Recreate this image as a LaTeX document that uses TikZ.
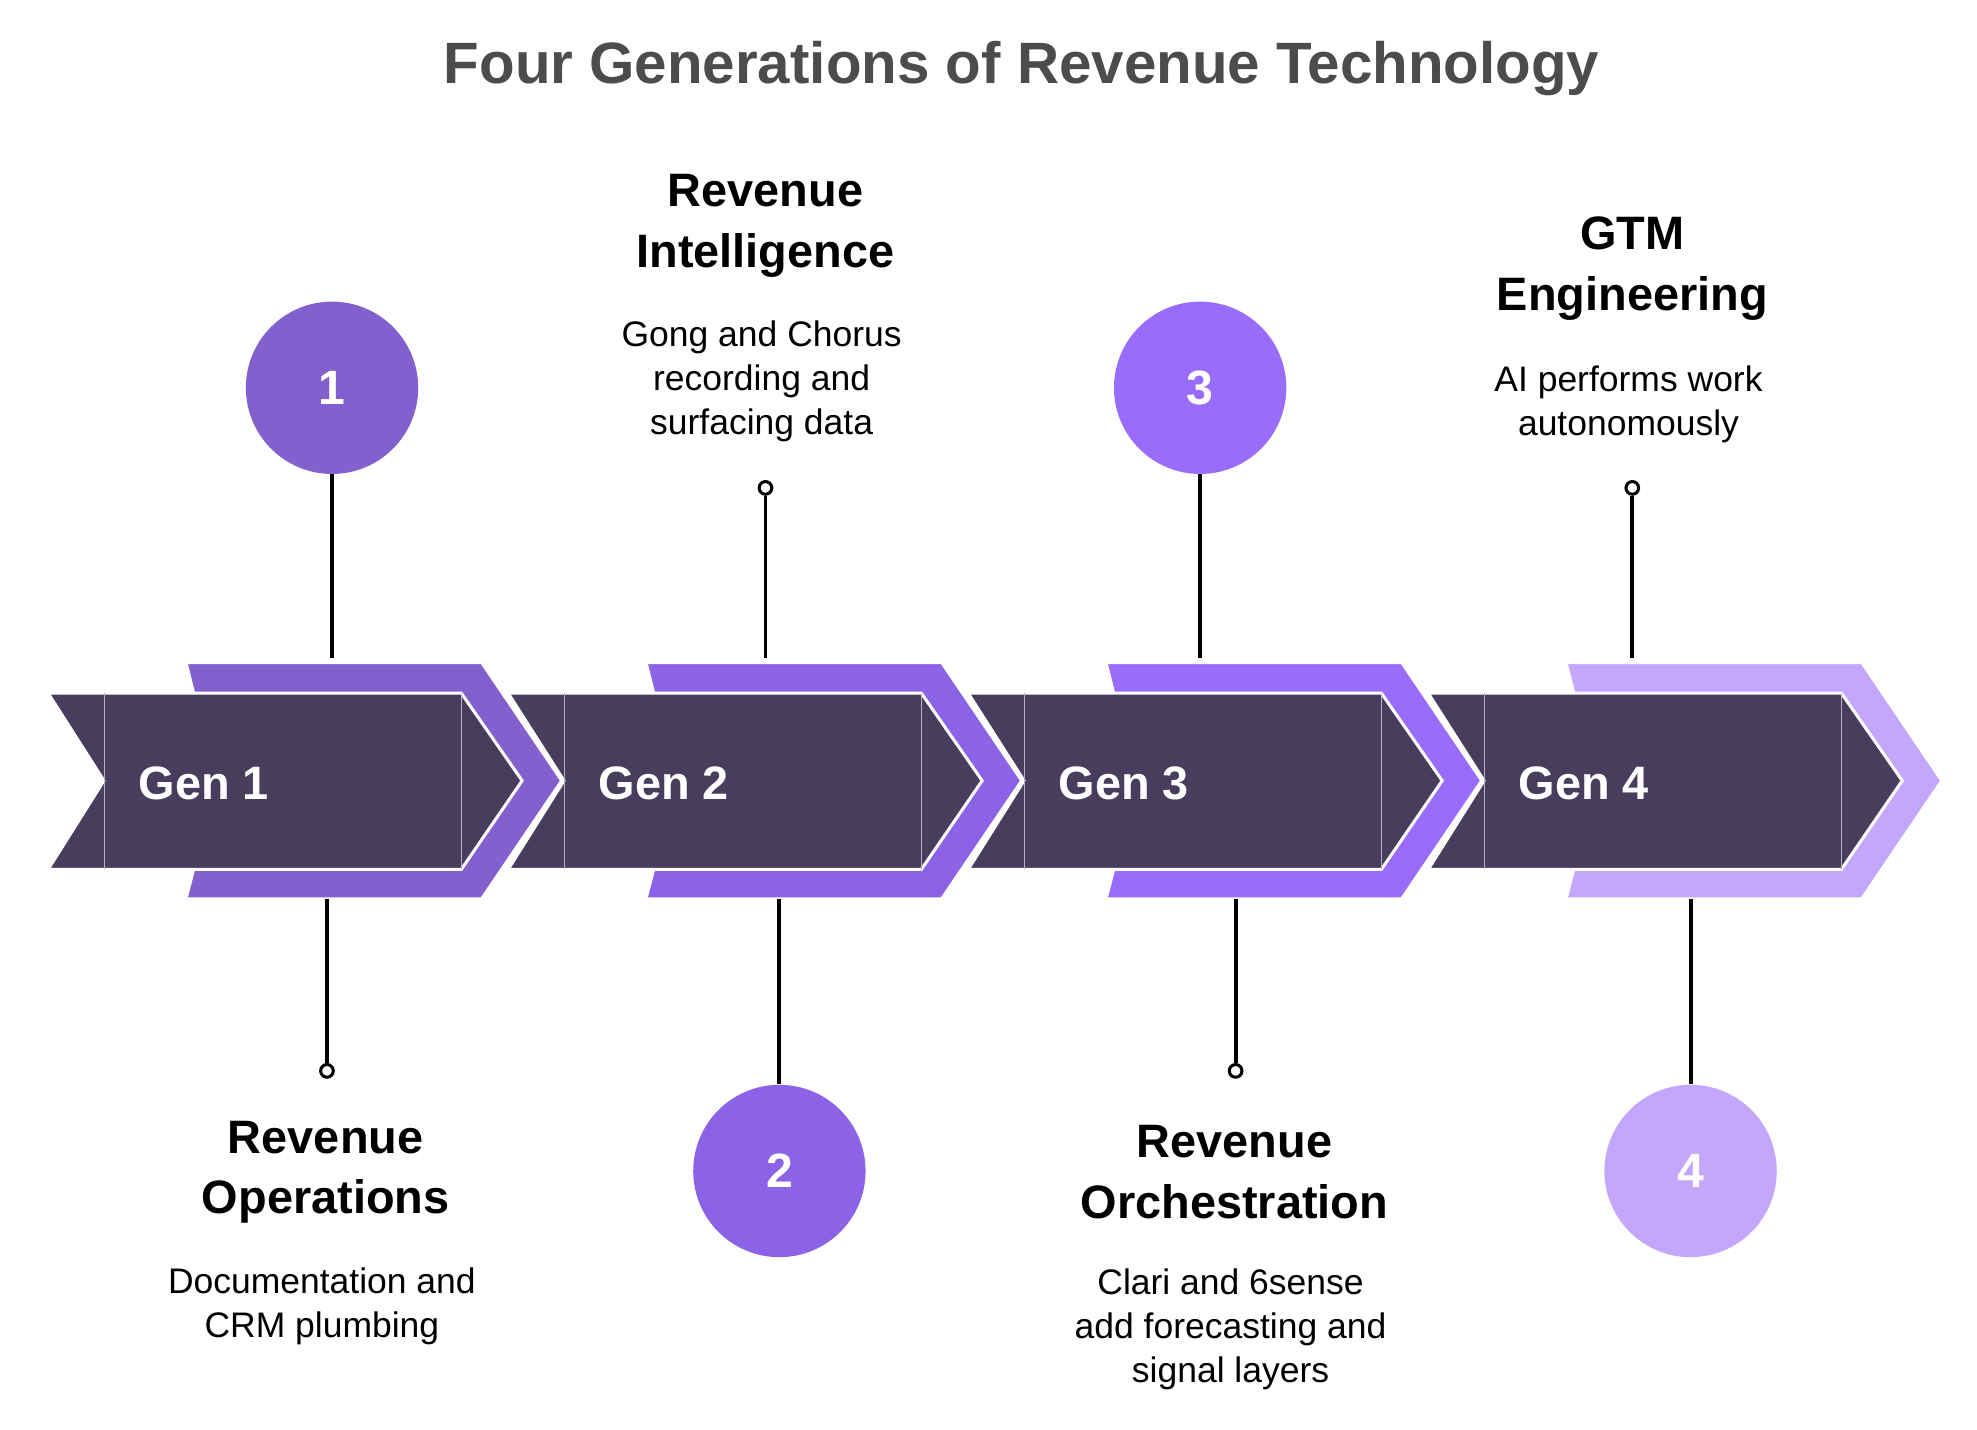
\documentclass[tikz,border=0pt]{standalone}
\usepackage{fontspec}
\setmainfont{Liberation Sans}
\begin{document}
\begin{tikzpicture}[x=0.5pt,y=-0.5pt,
  dark/.style={fill=darkc,draw=white,line width=1.2pt,line join=miter},
  num/.style={circle,minimum size=68pt,inner sep=0pt,text=white,font=\fontsize{19}{19}\bfseries\selectfont},
  head/.style={align=center,inner sep=0pt,font=\fontsize{18.5}{24}\bfseries\selectfont},
  body/.style={align=center,inner sep=0pt,font=\fontsize{14}{17.5}\selectfont},
  gen/.style={anchor=west,inner sep=0pt,text=white,font=\fontsize{18.5}{18.5}\bfseries\selectfont},
  conn/.style={line width=1.5pt},
  dot/.style={circle,draw=black,fill=white,line width=1.2pt,minimum size=5pt,inner sep=0pt}]
\definecolor{darkc}{HTML}{483D5C}
\definecolor{pa}{HTML}{8460CF}
\definecolor{pb}{HTML}{8C63E6}
\definecolor{pc}{HTML}{9A6CFC}
\definecolor{pd}{HTML}{C4A6FC}
\useasboundingbox (0,0) rectangle (1560,1128);
\node[text=black!70,font=\fontsize{23}{23}\bfseries\selectfont] (title) at (806,54) {Four Generations of Revenue Technology};
\foreach \k/\c/\g in {0/pa/1,1/pb/2,2/pc/3,3/pd/4}{
  \begin{scope}[xshift=\k*363*0.5pt]
  \fill[\c,draw=white,line width=1pt] (147,523)--(380,523)--(443,616)--(380,709)--(147,709)--(153,686)--(153,547)--cycle;
  \path[dark] (38,547)--(364,547)--(412,616)--(364,686)--(38,686)--(82,616)--cycle;
  \draw[white!60!darkc,line width=0.3pt] (82,547)--(82,686) (364,547)--(364,686);
  \node[gen] (g\g) at (109,618) {Gen \g};
  \end{scope}}
\node[num,fill=pa] (n1) at (262,306) {1};
\node[num,fill=pc] (n3) at (947,306) {3};
\node[num,fill=pb] (n2) at (615,924) {2};
\node[num,fill=pd] (n4) at (1334,924) {4};
\coordinate (t1) at (262,519); \coordinate (t3) at (947,519);
\coordinate (t2) at (604,519); \coordinate (t4) at (1288,519);
\coordinate (b1) at (258,709); \coordinate (b3) at (975,709);
\coordinate (b2) at (615,709); \coordinate (b4) at (1334,709);
\node[dot] (d2) at (604,385) {};
\node[dot] (d4) at (1288,385) {};
\node[dot] (d1) at (258,845) {};
\node[dot] (d3) at (975,845) {};
\draw[conn] (n1)--(t1); \draw[conn] (n3)--(t3);
\draw[conn] (d2)--(t2); \draw[conn] (d4)--(t4);
\draw[conn] (b1)--(d1); \draw[conn] (b3)--(d3);
\draw[conn] (b2)--(n2); \draw[conn] (b4)--(n4);
\node[head] (h2) at (604,178) {Revenue\\Intelligence};
\node[body] (x2) at (601,301) {Gong and Chorus\\recording and\\surfacing data};
\node[head] (h4) at (1288,212) {GTM\\Engineering};
\node[body] (x4) at (1285,319) {AI performs work\\autonomously};
\node[head] (h1) at (257,925) {Revenue\\Operations};
\node[body] (x1) at (254,1031) {Documentation and\\CRM plumbing};
\node[head] (h3) at (974,925) {Revenue\\Orchestration};
\node[body] (x3) at (971,1049) {Clari and 6sense\\add forecasting and\\signal layers};
\end{tikzpicture}
\end{document}
